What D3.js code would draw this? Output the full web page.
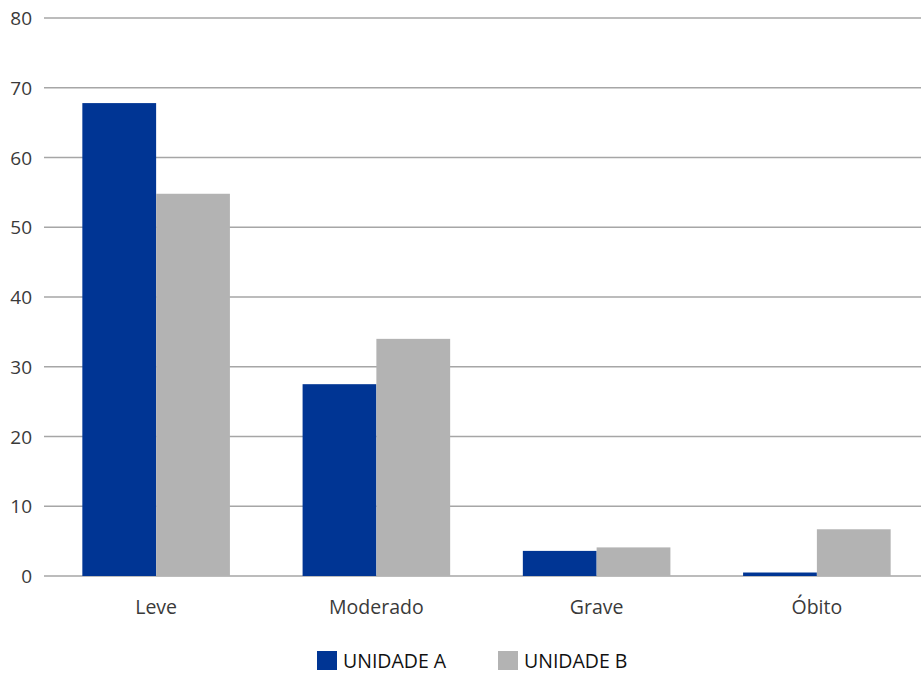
<!DOCTYPE html>
<html>
<head>
<meta charset="utf-8">
<script src="https://cdn.jsdelivr.net/npm/d3@7"></script>
<style>
  body { margin: 0; background: #fff; }
  text { font-family: "Open Sans", sans-serif; }
</style>
</head>
<body>
<svg id="chart" width="921" height="674"></svg>
<script>
'use strict'

const categories = ['Leve', 'Moderado', 'Grave', 'Óbito']
const seriesNames = ['UNIDADE A', 'UNIDADE B']
const unidadeA = [67.8, 27.5, 3.6, 0.5]
const unidadeB = [54.8, 34.0, 4.1, 6.7]
const yTicks = [0, 10, 20, 30, 40, 50, 60, 70, 80]
const colors = ['#003594', '#b3b3b3']

const svg = d3.select('#chart')

const x = d3.scaleBand().domain(categories).range([46, 927]).paddingInner(0.33).paddingOuter(0.165)
const x1 = d3.scaleBand().domain(seriesNames).range([0, x.bandwidth()])
const y = d3.scaleLinear().domain([0, 80]).range([576, 18])

// grid
svg.append('g')
  .selectAll('line')
  .data(yTicks)
  .join('line')
  .attr('x1', 44).attr('x2', 921)
  .attr('y1', d => y(d)).attr('y2', d => y(d))
  .attr('stroke', '#a6a6a6')
  .attr('stroke-width', 1.3)

// y labels
svg.append('g')
  .selectAll('text')
  .data(yTicks)
  .join('text')
  .attr('x', 32)
  .attr('y', d => y(d) + 7)
  .attr('text-anchor', 'end')
  .attr('font-size', 19)
  .attr('fill', '#3a3a3a')
  .text(d => d)

const rows = categories.map((c, i) => ({ cat: c, vals: [unidadeA[i], unidadeB[i]] }))

svg.append('g')
  .selectAll('g')
  .data(rows)
  .join('g')
  .attr('transform', d => `translate(${x(d.cat)},0)`)
  .selectAll('rect')
  .data(d => d.vals.map((v, j) => ({ name: seriesNames[j], v, j })))
  .join('rect')
  .attr('x', d => x1(d.name))
  .attr('width', x1.bandwidth())
  .attr('y', d => y(d.v))
  .attr('height', d => y(0) - y(d.v))
  .attr('fill', d => colors[d.j])

// x labels
svg.append('g')
  .selectAll('text')
  .data(categories)
  .join('text')
  .attr('x', d => x(d) + x.bandwidth() / 2)
  .attr('y', 614)
  .attr('text-anchor', 'middle')
  .attr('font-size', 19.5)
  .attr('fill', '#3a3a3a')
  .text(d => d)

// legend
const legendX = [317, 498]
const legend = svg.append('g')
  .selectAll('g')
  .data(seriesNames)
  .join('g')
  .attr('transform', (d, i) => `translate(${legendX[i]},651)`)
legend.append('rect')
  .attr('width', 20).attr('height', 19)
  .attr('fill', (d, i) => colors[i])
legend.append('text')
  .attr('x', 26).attr('y', 17)
  .attr('font-size', 19.5)
  .attr('fill', '#111')
  .text(d => d)
</script>
</body>
</html>
